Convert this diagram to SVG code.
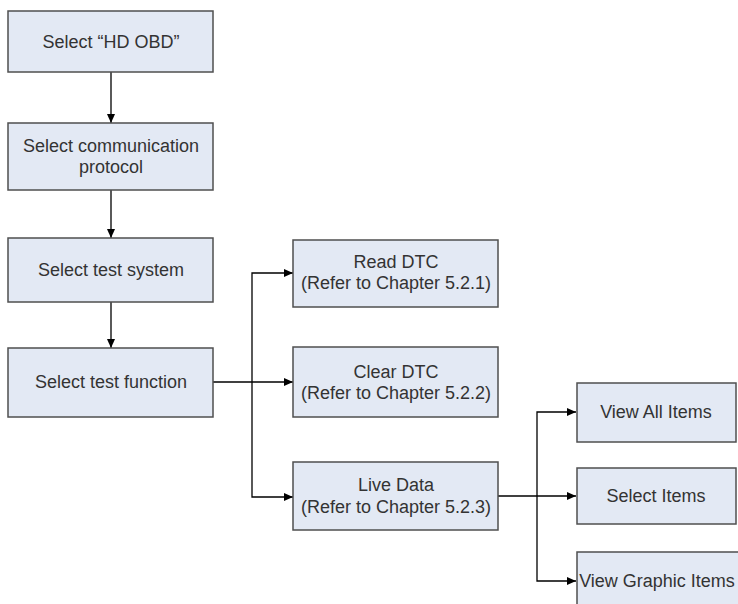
<svg xmlns="http://www.w3.org/2000/svg" width="738" height="604" viewBox="0 0 738 604">
<defs>
<style>
.box{fill:#e3e9f4;stroke:#4f4f4f;stroke-width:1.5}
.t{font-family:"Liberation Sans",Arial,sans-serif;font-size:18px;fill:#333333;text-anchor:middle}
.c{fill:none;stroke:#000;stroke-width:1.3}
</style>
<marker id="ah" markerWidth="10" markerHeight="10" refX="9" refY="5" orient="auto" markerUnits="userSpaceOnUse">
<path d="M0,1 L9,5 L0,9 Z" fill="#000"/>
</marker>
</defs>
<rect width="738" height="604" fill="#fff"/>
<g id="connectors">
<path class="c" d="M111 72 V123" marker-end="url(#ah)"/>
<path class="c" d="M111 190 V238" marker-end="url(#ah)"/>
<path class="c" d="M111 302 V348" marker-end="url(#ah)"/>
<path class="c" d="M213 382 H293" marker-end="url(#ah)"/>
<path class="c" d="M252 382 V273 H293" marker-end="url(#ah)"/>
<path class="c" d="M252 382 V497 H293" marker-end="url(#ah)"/>
<path class="c" d="M498 496 H576" marker-end="url(#ah)"/>
<path class="c" d="M537 496 V412 H576" marker-end="url(#ah)"/>
<path class="c" d="M537 496 V581 H576" marker-end="url(#ah)"/>
</g>
<g id="n1"><rect class="box" x="8" y="11" width="205" height="61"/><text class="t" x="111" y="48">Select “HD OBD”</text></g>
<g id="n2"><rect class="box" x="8" y="123" width="205" height="67"/><text class="t" x="111" y="152">Select communication</text><text class="t" x="111" y="173">protocol</text></g>
<g id="n3"><rect class="box" x="8" y="238" width="205" height="64"/><text class="t" x="111" y="276">Select test system</text></g>
<g id="n4"><rect class="box" x="8" y="348" width="205" height="69"/><text class="t" x="111" y="388">Select test function</text></g>
<g id="n5"><rect class="box" x="293" y="240" width="205" height="67"/><text class="t" x="396" y="268">Read DTC</text><text class="t" x="396" y="289">(Refer to Chapter 5.2.1)</text></g>
<g id="n6"><rect class="box" x="293" y="347" width="205" height="70"/><text class="t" x="396" y="378">Clear DTC</text><text class="t" x="396" y="399">(Refer to Chapter 5.2.2)</text></g>
<g id="n7"><rect class="box" x="293" y="462" width="205" height="68"/><text class="t" x="396" y="491">Live Data</text><text class="t" x="396" y="513">(Refer to Chapter 5.2.3)</text></g>
<g id="n8"><rect class="box" x="577" y="383" width="159" height="59"/><text class="t" x="656" y="418">View All Items</text></g>
<g id="n9"><rect class="box" x="577" y="468" width="159" height="56"/><text class="t" x="656" y="502">Select Items</text></g>
<g id="n10"><rect class="box" x="577" y="552" width="162" height="60"/><text class="t" x="657" y="587">View Graphic Items</text></g>
</svg>
